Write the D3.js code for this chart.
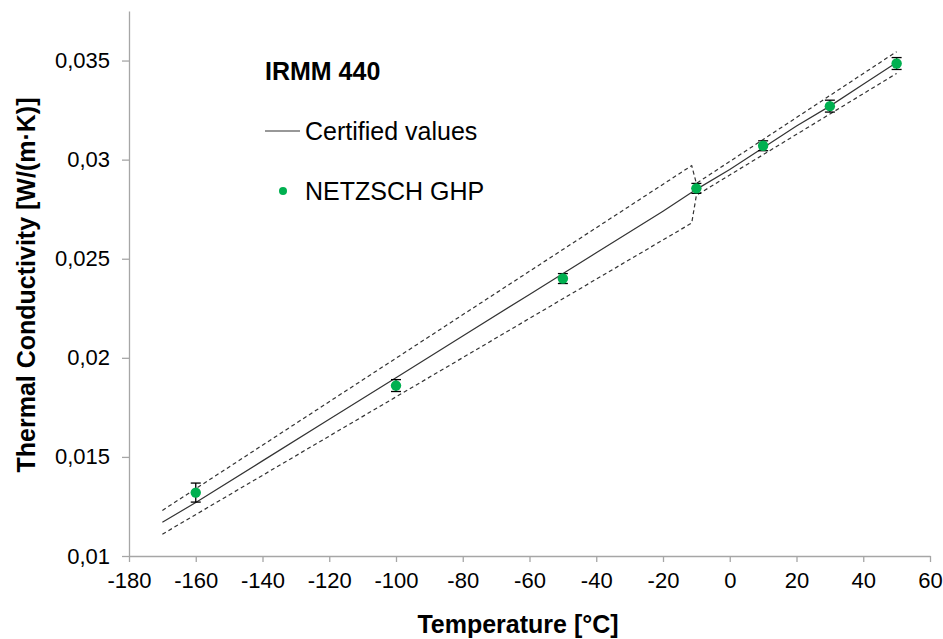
<!DOCTYPE html>
<html><head><meta charset="utf-8">
<script src="https://cdn.jsdelivr.net/npm/d3@7"></script>
<style>body{margin:0;background:#fff}svg{display:block}</style>
</head><body>
<script>
// ---- data ----
const certT   = [-170,-160,-140,-120,-100,-80,-60,-40,-20,-10,0,10,20,30,40,50];
const certVal = [0.0117,0.0127,0.0148,0.0169,0.0190,0.0211,0.0232,0.0253,0.0274,0.0285,0.0295,0.0306,0.0317,0.0327,0.0338,0.0349];
const upperT   = [-170,-11.4,-10,50];
const upperVal = [0.0123,0.0297,0.0288,0.03545];
const lowerT   = [-170,-11.4,-10,50];
const lowerVal = [0.0111,0.0268,0.0282,0.03435];
const ghpT   = [-160,-100,-50,-10,10,30,50];
const ghpVal = [0.0132,0.0186,0.0240,0.02855,0.0307,0.0327,0.03485];
const ghpErr = [0.00048,0.0003,0.00025,0.00025,0.00025,0.0003,0.0003];
const xTicks = [-180,-160,-140,-120,-100,-80,-60,-40,-20,0,20,40,60];
const yTicks = [0.01,0.015,0.02,0.025,0.03,0.035];

const W=943,H=639;
const svg=d3.select("body").append("svg").attr("width",W).attr("height",H)
  .style("font-family","'Liberation Sans', Arial, sans-serif");

const x=d3.scaleLinear().domain([-180,60]).range([129,930]);
const y=d3.scaleLinear().domain([0.01,0.0375]).range([556,11]);
const fmt=v=>String(+v.toFixed(3)).replace(".",",");

// axes
const xa=svg.append("g").attr("transform",`translate(0,${y(0.01)})`)
  .call(d3.axisBottom(x).tickValues(xTicks).tickSize(6).tickSizeOuter(0).tickPadding(10).tickFormat(d=>d));
const ya=svg.append("g").attr("transform",`translate(${x(-180)},0)`)
  .call(d3.axisLeft(y).tickValues(yTicks).tickSize(7).tickSizeOuter(0).tickPadding(12).tickFormat(fmt));
[xa,ya].forEach(a=>{
  a.selectAll("path,line").attr("stroke","#a6a6a6").attr("stroke-width",1.3);
  a.selectAll("text").attr("fill","#000").style("font-size","22px").style("font-family","'Liberation Sans', Arial, sans-serif");
});

// bounds
const line=d3.line().x(d=>x(d[0])).y(d=>y(d[1]));
[[upperT,upperVal],[lowerT,lowerVal]].forEach(([ts,vs])=>{
  svg.append("path").datum(ts.map((t,i)=>[t,vs[i]])).attr("d",line)
    .attr("fill","none").attr("stroke","#333").attr("stroke-width",1.2).attr("stroke-dasharray","4,3");
});
// certified
svg.append("path").datum(certT.map((t,i)=>[t,certVal[i]])).attr("d",line)
  .attr("fill","none").attr("stroke","#333").attr("stroke-width",1.2);

// error bars
const eb=svg.append("g").attr("stroke","#000").attr("stroke-width",1.3);
ghpT.forEach((t,i)=>{
  const cx=x(t),y1=y(ghpVal[i]+ghpErr[i]),y2=y(ghpVal[i]-ghpErr[i]);
  eb.append("line").attr("x1",cx).attr("x2",cx).attr("y1",y1).attr("y2",y2);
  eb.append("line").attr("x1",cx-5).attr("x2",cx+5).attr("y1",y1).attr("y2",y1);
  eb.append("line").attr("x1",cx-5).attr("x2",cx+5).attr("y1",y2).attr("y2",y2);
});
svg.append("g").selectAll("circle").data(ghpT).join("circle")
  .attr("cx",d=>x(d)).attr("cy",(d,i)=>y(ghpVal[i])).attr("r",5.2).attr("fill","#00b050");

// legend
svg.append("text").attr("x",265).attr("y",80).text("IRMM 440")
  .style("font-size","25px").style("font-weight","bold");
svg.append("line").attr("x1",265).attr("x2",300).attr("y1",131).attr("y2",131).attr("stroke","#333").attr("stroke-width",1.2);
svg.append("text").attr("x",305).attr("y",140).text("Certified values").style("font-size","25px");
svg.append("circle").attr("cx",283).attr("cy",191).attr("r",4).attr("fill","#00b050");
svg.append("text").attr("x",305).attr("y",200).text("NETZSCH GHP").style("font-size","25px");

// axis titles
svg.append("text").attr("x",518).attr("y",633).attr("text-anchor","middle")
  .text("Temperature [°C]").style("font-size","25px").style("font-weight","bold");
svg.append("text").attr("transform","translate(35,285) rotate(-90)").attr("text-anchor","middle")
  .text("Thermal Conductivity [W/(m·K)]").style("font-size","25px").style("font-weight","bold");
</script>
</body></html>
